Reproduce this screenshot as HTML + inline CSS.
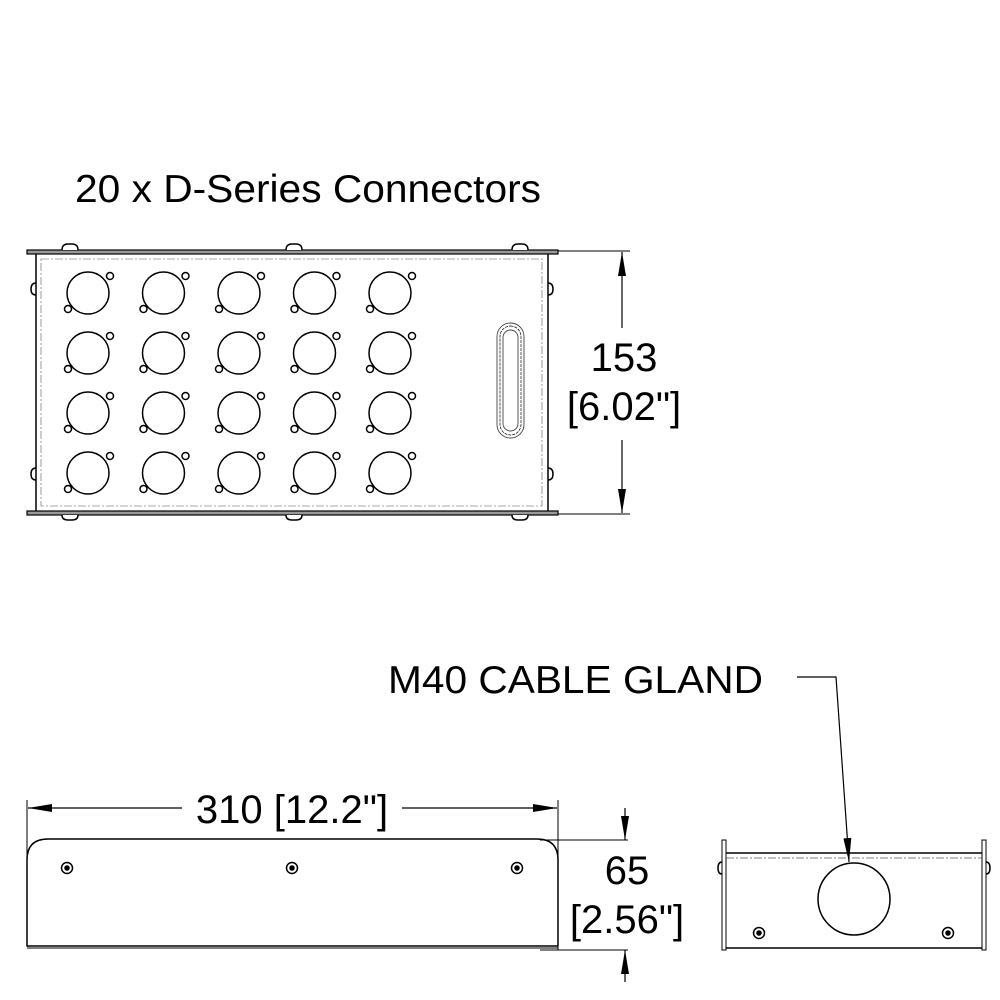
<!DOCTYPE html>
<html><head><meta charset="utf-8"><style>html,body{margin:0;padding:0;background:#fff}svg{display:block}</style></head>
<body>
<svg width="1000" height="1000" viewBox="0 0 1000 1000" xmlns="http://www.w3.org/2000/svg" font-family="Liberation Sans, Arial, sans-serif">
<defs>
<marker id="b" viewBox="0 0 24 8" refX="24" refY="4" markerWidth="24" markerHeight="8" markerUnits="userSpaceOnUse" orient="auto-start-reverse"><path d="M0,0 L24,4 L0,8 z" fill="#000"/></marker>
</defs>
<g fill="none" stroke="#000" stroke-width="1.5">
<text x="75" y="202" font-size="39" fill="#000" stroke="none" textLength="466" lengthAdjust="spacingAndGlyphs">20 x D-Series Connectors</text>
<rect x="27" y="250" width="531" height="4" fill="#999" stroke-width="1.2"/>
<rect x="27" y="511" width="531" height="4" fill="#999" stroke-width="1.2"/>
<line x1="36" y1="254" x2="36" y2="511"/>
<line x1="548" y1="254" x2="548" y2="511"/>
<rect x="41" y="259" width="501" height="247" stroke-width="0.6" stroke-dasharray="8,2,2,2" stroke="#555"/>
<path d="M62,250 q0,-6 6,-6 h4 q6,0 6,6" fill="#fff"/>
<path d="M286,250 q0,-6 6,-6 h4 q6,0 6,6" fill="#fff"/>
<path d="M512,250 q0,-6 6,-6 h4 q6,0 6,6" fill="#fff"/>
<path d="M62,515 q0,5 6,5 h4 q6,0 6,-5" fill="#fff"/>
<path d="M286,515 q0,5 6,5 h4 q6,0 6,-5" fill="#fff"/>
<path d="M512,515 q0,5 6,5 h4 q6,0 6,-5" fill="#fff"/>
<path d="M36,283 q-5,0 -5,6 q0,6 5,6"/>
<path d="M36,468 q-5,0 -5,6 q0,6 5,6"/>
<path d="M548,283 q5,0 5,6 q0,6 -5,6"/>
<path d="M548,468 q5,0 5,6 q0,6 -5,6"/>
<rect x="497" y="323" width="27" height="115" rx="13.5" stroke-width="0.9" stroke="#444"/>
<rect x="500" y="326" width="21" height="109" rx="10.5" stroke-width="0.7" stroke-dasharray="3,1"/>
<rect x="503" y="330" width="15" height="101" rx="7.5" stroke-width="0.9" stroke="#444"/>
<g id="c"><circle cx="88" cy="293" r="21"/><circle cx="110" cy="276" r="3.5"/><circle cx="68" cy="309" r="3.5"/></g>
<use href="#c" x="75.5"/><use href="#c" x="151"/><use href="#c" x="226.5"/><use href="#c" x="302"/>
<use href="#c" y="60"/><use href="#c" x="75.5" y="60"/><use href="#c" x="151" y="60"/><use href="#c" x="226.5" y="60"/><use href="#c" x="302" y="60"/>
<use href="#c" y="120"/><use href="#c" x="75.5" y="120"/><use href="#c" x="151" y="120"/><use href="#c" x="226.5" y="120"/><use href="#c" x="302" y="120"/>
<use href="#c" y="180"/><use href="#c" x="75.5" y="180"/><use href="#c" x="151" y="180"/><use href="#c" x="226.5" y="180"/><use href="#c" x="302" y="180"/>
<line x1="558" y1="251" x2="630" y2="251" stroke-width="1"/>
<line x1="558" y1="514" x2="630" y2="514" stroke-width="1"/>
<line x1="622" y1="328" x2="622" y2="252" marker-end="url(#b)" stroke-width="1.2"/>
<line x1="622" y1="440" x2="622" y2="513" marker-end="url(#b)" stroke-width="1.2"/>
<text x="624" y="371" font-size="40" text-anchor="middle" fill="#000" stroke="none">153</text>
<text x="624" y="420" font-size="40" text-anchor="middle" fill="#000" stroke="none">[6.02"]</text>

<line x1="27" y1="800" x2="27" y2="947" stroke-width="1"/>
<line x1="558" y1="800" x2="558" y2="950" stroke-width="1"/>
<line x1="182" y1="808" x2="28" y2="808" marker-end="url(#b)" stroke-width="1.2"/>
<line x1="402" y1="808" x2="557" y2="808" marker-end="url(#b)" stroke-width="1.2"/>
<text x="292" y="823" font-size="40" text-anchor="middle" fill="#000" stroke="none">310 [12.2"]</text>
<path d="M27,946 V860 q0,-21 21,-21 H537 q21,0 21,21 V946"/>
<line x1="27" y1="946" x2="558" y2="946"/>
<line x1="27" y1="948" x2="558" y2="948" stroke-width="1"/>
<line x1="540" y1="840" x2="628" y2="840" stroke-width="1"/>
<line x1="540" y1="950" x2="628" y2="950" stroke-width="1"/>
<line x1="625" y1="808" x2="625" y2="840" marker-end="url(#b)" stroke-width="1.2"/>
<line x1="625" y1="982" x2="625" y2="950" marker-end="url(#b)" stroke-width="1.2"/>
<text x="627" y="884" font-size="40" text-anchor="middle" fill="#000" stroke="none">65</text>
<text x="627" y="933" font-size="40" text-anchor="middle" fill="#000" stroke="none">[2.56"]</text>
<g id="s"><circle cx="67" cy="868" r="5.5"/><circle cx="67" cy="868" r="2" fill="#000"/></g>
<use href="#s" x="225"/><use href="#s" x="450"/>

<text x="388" y="693" font-size="39" fill="#000" stroke="none" textLength="375" lengthAdjust="spacingAndGlyphs">M40 CABLE GLAND</text>
<polyline points="797,677 836,677 849,862" stroke-width="1.2" marker-end="url(#b)"/>
<rect x="722" y="840" width="4" height="110" fill="#fff" stroke-width="1"/>
<rect x="982" y="840" width="4" height="110" fill="#fff" stroke-width="1"/>
<line x1="726" y1="853" x2="982" y2="853"/>
<line x1="726" y1="858" x2="982" y2="858" stroke-width="0.6" stroke-dasharray="8,2,2,2"/>
<line x1="726" y1="948" x2="982" y2="948"/>
<path d="M722,862 q-4,0 -4,6 q0,6 4,6" />
<path d="M986,862 q4,0 4,6 q0,6 -4,6" />
<circle cx="854" cy="899" r="36"/>
<g><circle cx="759" cy="933" r="5.5"/><circle cx="759" cy="933" r="2" fill="#000"/></g>
<g><circle cx="948" cy="933" r="5.5"/><circle cx="948" cy="933" r="2" fill="#000"/></g>
</g>
</svg>
</body></html>
